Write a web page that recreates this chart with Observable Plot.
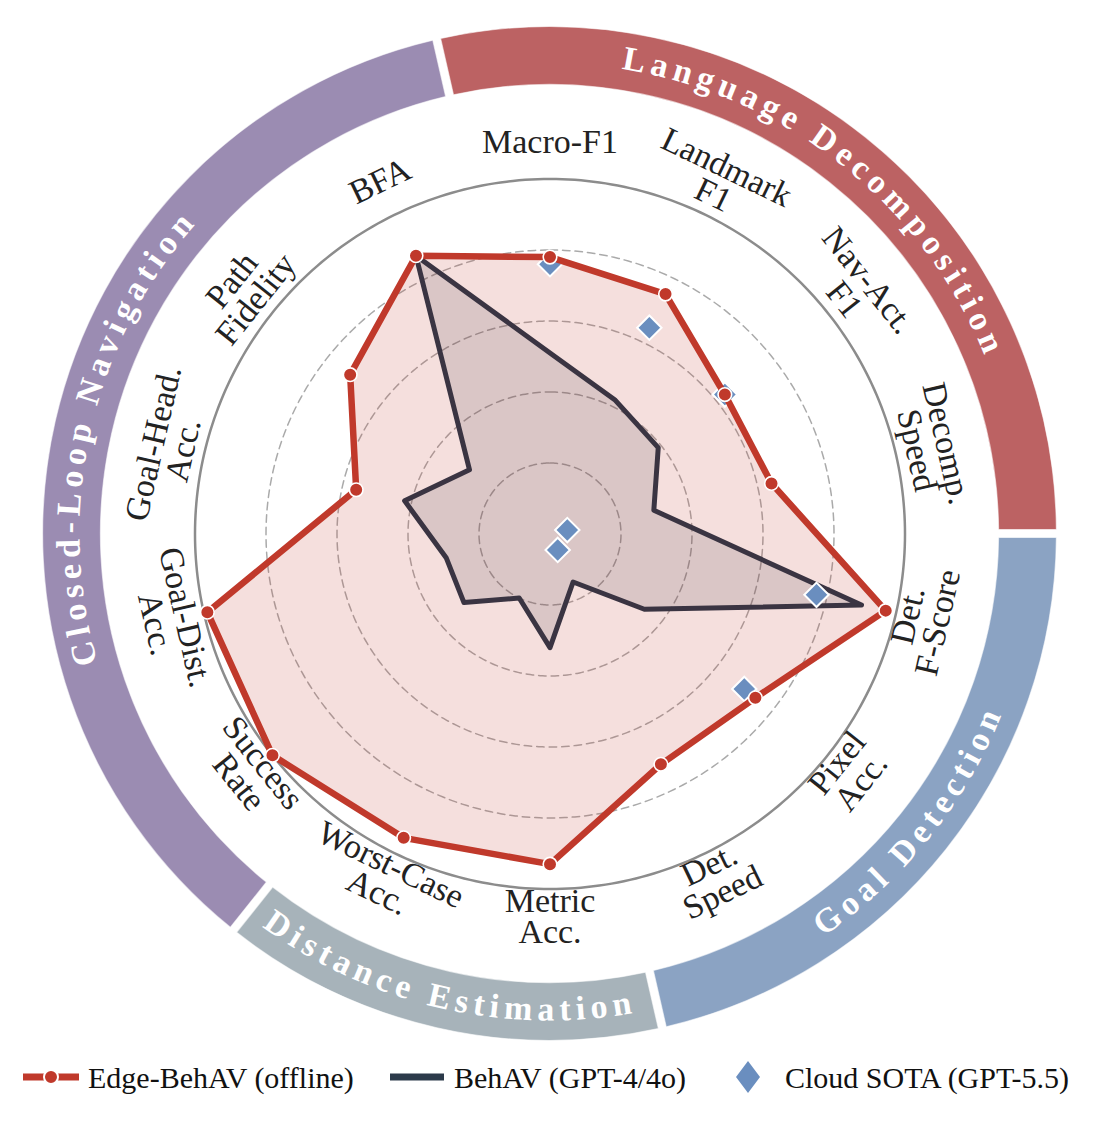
<!DOCTYPE html>
<html>
<head>
<meta charset="utf-8">
<script src="https://cdn.jsdelivr.net/npm/d3@7"></script>
<script src="https://cdn.jsdelivr.net/npm/@observablehq/plot@0.6"></script>
<style>
  html, body { margin: 0; padding: 0; background: #fff; }
  #chart svg, #legend svg { display: block; }
</style>
</head>
<body>
<div id="chart"></div>
<div id="legend"></div>
<script>
// ---------------- data ----------------
const axisLabels = ["Macro-F1", "Landmark\nF1", "Nav-Act.\nF1", "Decomp.\nSpeed", "Det.\nF-Score",
  "Pixel\nAcc.", "Det.\nSpeed", "Metric\nAcc.", "Worst-Case\nAcc.", "Success\nRate",
  "Goal-Dist.\nAcc.", "Goal-Head.\nAcc.", "Path\nFidelity", "BFA"];
const edgeValues  = [0.78, 0.75, 0.63, 0.64, 0.97, 0.74, 0.72, 0.93, 0.95, 1.00, 0.99, 0.56, 0.72, 0.87];
const behavValues = [0.51, 0.42, 0.39, 0.30, 0.90, 0.34, 0.15, 0.32, 0.20, 0.31, 0.30, 0.42, 0.29, 0.87];
const cloudValues = [0.76, 0.645, 0.63, 0.05, 0.77, 0.70, 0.05, null, null, null, null, null, null, null];
const seriesNames = ["Edge-BehAV (offline)", "BehAV (GPT-4/4o)", "Cloud SOTA (GPT-5.5)"];
const groupNames  = ["Language Decomposition", "Goal Detection", "Distance Estimation", "Closed-Loop Navigation"];
const groupFirstAxis = [0, 4, 7, 9];
const groupLastAxis  = [3, 6, 8, 13];
const gridLevels = [0.2, 0.4, 0.6, 0.8, 1.0];

// ---------------- styles ----------------
const edgeColor = "#c0392b";
const behavColor = "#3a3442";
const cloudColor = "#6a8ebf";
const groupColors = ["#bc6263", "#8ba3c3", "#a7b3ba", "#9b8cb2"];
const FONT = "'Liberation Serif', 'Times New Roman', serif";

const W = 1100, H = 1050, CX = 549.5, CY = 533.5, S = 355;
const N = axisLabels.length;
const step = 360 / N;
const rad = a => a * Math.PI / 180;
const px = (v, a) => v * Math.sin(rad(a));
const py = (v, a) => v * Math.cos(rad(a));

const toRows = (vals, name) => vals.map((v, i) => ({series: name, i, angle: i * step, value: v}))
  .filter(d => d.value != null);
const edgeRows = toRows(edgeValues, seriesNames[0]);
const behavRows = toRows(behavValues, seriesNames[1]);
const cloudRows = toRows(cloudValues, seriesNames[2]);
const gridRows = gridLevels.flatMap(l => d3.range(0, 361, 1).map(a => ({level: l, angle: a})));

const X = d => px(d.value, d.angle);
const Y = d => py(d.value, d.angle);
const rot = a => a <= 90 ? a : (a < 270 ? a - 180 : a - 360);

// label placement: radius 1.1, two-line labels on the lower/right side nudged along text-up
const labelRows = axisLabels.map((t, i) => {
  const a = i * step, r = rot(a);
  const nudge = (t.includes("\n") && a > 95 && a < 240) ? 7 / S : 0;
  return {
    label: t, angle: a, rotate: r,
    lx: px(1.1, a) + nudge * Math.sin(rad(r)),
    ly: py(1.1, a) + nudge * Math.cos(rad(r))
  };
});

// ring of group segments with curved titles
function ringMark(index, scales) {
  const cx = scales.x(0), cy = scales.y(0);
  const k = scales.x(1) - scales.x(0);
  const rIn = 1.265 * k, rOut = 1.428 * k, rMid = (rIn + rOut) / 2;
  const g = d3.create("svg:g").attr("transform", `translate(${cx},${cy})`);
  const arc = d3.arc().innerRadius(rIn).outerRadius(rOut).padRadius(rMid).padAngle(8 / rMid);
  const pt = (r, a) => `${(r * Math.sin(rad(a))).toFixed(2)},${(-r * Math.cos(rad(a))).toFixed(2)}`;
  groupNames.forEach((name, i) => {
    const a0 = (groupFirstAxis[i] - 0.5) * step;
    const a1 = (groupLastAxis[i] + 0.5) * step;
    g.append("path")
      .attr("d", arc({startAngle: rad(a0), endAngle: rad(a1)}))
      .attr("fill", groupColors[i])
      .attr("stroke", "#fff").attr("stroke-opacity", 0.6).attr("stroke-width", 1.2);
    const mid = (a0 + a1) / 2;
    const bottom = mid > 90 && mid < 270;
    const rb = bottom ? 487 / S * k : 470 / S * k;
    const d = bottom
      ? `M${pt(rb, a1)} A${rb},${rb} 0 0 0 ${pt(rb, a0)}`
      : `M${pt(rb, a0)} A${rb},${rb} 0 0 1 ${pt(rb, a1)}`;
    g.append("path").attr("id", "ringpath" + i).attr("d", d).attr("fill", "none");
    g.append("text")
      .attr("fill", "#fff")
      .attr("font-family", FONT)
      .attr("font-weight", "bold")
      .attr("font-size", 34)
      .attr("letter-spacing", 5.5)
      .append("textPath")
      .attr("href", "#ringpath" + i)
      .attr("startOffset", "50%")
      .attr("text-anchor", "middle")
      .text(name);
  });
  return g.node();
}

const chart = Plot.plot({
  width: W, height: H, margin: 0,
  style: {fontFamily: FONT, background: "#fff", overflow: "visible"},
  x: {domain: [-CX / S, (W - CX) / S], axis: null},
  y: {domain: [-(H - CY) / S, CY / S], axis: null},
  marks: [
    Plot.line(gridRows.filter(d => d.level < 1), {
      x: d => px(d.level, d.angle), y: d => py(d.level, d.angle), z: "level",
      stroke: "#aaaaaa", strokeWidth: 1.5, strokeDasharray: "7.5,5"
    }),
    Plot.line(gridRows.filter(d => d.level === 1), {
      x: d => px(d.level, d.angle), y: d => py(d.level, d.angle), z: "level",
      stroke: "#8c8c8c", strokeWidth: 2.5
    }),
    Plot.line(edgeRows, {x: X, y: Y, curve: "linear-closed", fill: edgeColor, fillOpacity: 0.16, stroke: "none"}),
    Plot.line(behavRows, {x: X, y: Y, curve: "linear-closed", fill: behavColor, fillOpacity: 0.14,
      stroke: behavColor, strokeWidth: 5, strokeLinejoin: "round"}),
    Plot.dot(cloudRows, {x: X, y: Y, symbol: "diamond2", r: 11, fill: cloudColor, stroke: "#fff", strokeWidth: 2}),
    Plot.line(edgeRows, {x: X, y: Y, curve: "linear-closed", stroke: edgeColor, strokeWidth: 6.5, strokeLinejoin: "round"}),
    Plot.dot(edgeRows, {x: X, y: Y, r: 6.8, fill: edgeColor, stroke: "#fff", strokeWidth: 1.6}),
    Plot.text(labelRows, {
      x: "lx", y: "ly", text: "label",
      rotate: "rotate", fontSize: 34, lineHeight: 0.9, lineAnchor: "middle",
      textAnchor: "middle", fill: "#222", fontFamily: FONT
    }),
    ringMark
  ]
});
document.getElementById("chart").appendChild(chart);

// ---------------- legend ----------------
const lg = d3.select("#legend").append("svg").attr("width", W).attr("height", 72)
  .style("font-family", FONT);
const ly = 27;
lg.append("line").attr("x1", 23).attr("x2", 79).attr("y1", ly).attr("y2", ly)
  .attr("stroke", edgeColor).attr("stroke-width", 7);
lg.append("circle").attr("cx", 51).attr("cy", ly).attr("r", 7).attr("fill", edgeColor)
  .attr("stroke", "#fff").attr("stroke-width", 2);
lg.append("text").attr("x", 88).attr("y", ly + 10.5).attr("font-size", 30).attr("fill", "#111").text(seriesNames[0]);
lg.append("line").attr("x1", 390).attr("x2", 444).attr("y1", ly).attr("y2", ly)
  .attr("stroke", "#2c3a4a").attr("stroke-width", 7);
lg.append("text").attr("x", 454).attr("y", ly + 10.5).attr("font-size", 30).attr("fill", "#111").text(seriesNames[1]);
lg.append("path").attr("d", `M748,${ly - 16} L760,${ly} L748,${ly + 16} L736,${ly} Z`).attr("fill", cloudColor);
lg.append("text").attr("x", 785).attr("y", ly + 10.5).attr("font-size", 30).attr("fill", "#111").text(seriesNames[2]);
</script>
</body>
</html>
